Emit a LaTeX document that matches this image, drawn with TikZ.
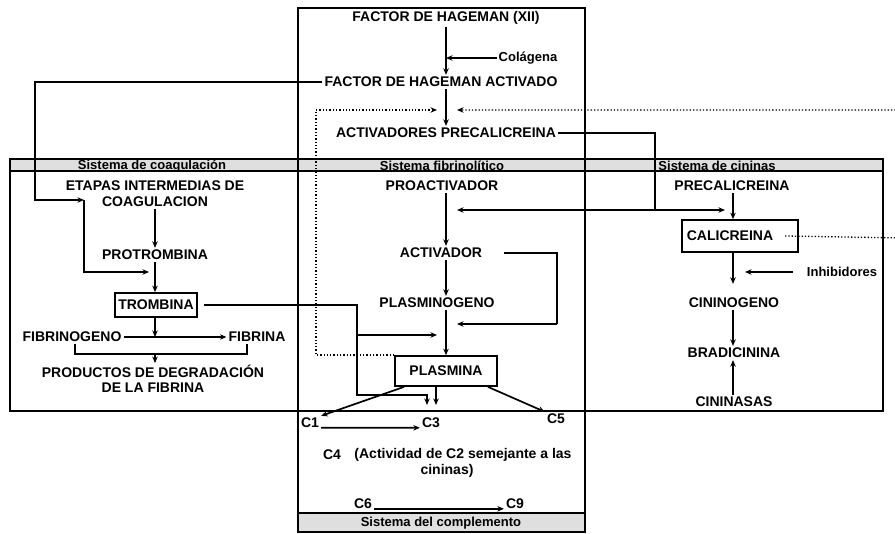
\documentclass[tikz,border=0pt]{standalone}
\usepackage{fontspec}
\setmainfont{Liberation Sans}
\usetikzlibrary{arrows.meta,calc}
\begin{document}
\begin{tikzpicture}[x=1pt,y=-1pt,
  every node/.style={font=\bfseries\fontsize{14pt}{16pt}\selectfont, inner sep=2pt},
  ln/.style={line width=1.8pt},
  arr/.style={line width=1.7pt,-{Stealth[length=6.5pt,width=5.5pt]}},
  darr/.style={line width=1.3pt, dotted, -{Stealth[length=6.5pt,width=5.5pt]}},
  boxn/.style={draw, line width=1.7pt, inner xsep=3pt},
  small/.style={font=\bfseries\fontsize{13pt}{15pt}\selectfont},
  hdr/.style={font=\bfseries\fontsize{13pt}{14pt}\selectfont, inner sep=0pt}]
\useasboundingbox (0,0) rectangle (895,534);
\clip (0,0) rectangle (895,534);
\fill[white] (0,0) rectangle (895,534);

% frames
\fill[gray!25] (10,159) rectangle (883,171);
\fill[gray!25] (298,513) rectangle (585,532);
\draw[ln] (10,159) rectangle (883,411);
\draw[ln] (10,171) -- (883,171);
\draw[ln] (298,8) rectangle (585,532);
\draw[ln] (298,513) -- (585,513);

\node[hdr] (hc) at (152,166) {Sistema de coagulación};
\node[hdr] (hf) at (442,166) {Sistema fibrinolítico};
\node[hdr] (hk) at (717,166) {Sistema de cininas};
\node[hdr] (hm) at (441,523) {Sistema del complemento};

% columns
\coordinate (cx) at (446,0);
\coordinate (lx) at (155,0);
\coordinate (rx) at (733,0);

% nodes
\node (fh) at (446,18) {FACTOR DE HAGEMAN (XII)};
\node[small] (col) at (528,58) {Colágena};
\node (fha) at (441,82) {FACTOR DE HAGEMAN ACTIVADO};
\node (ap) at (446,133) {ACTIVADORES PRECALICREINA};
\node[align=center] (et) at (155,194) {ETAPAS INTERMEDIAS DE\\COAGULACION};
\node (pt) at (155,255) {PROTROMBINA};
\node[boxn, minimum height=24pt] (tr) at (156,305) {TROMBINA};
\node (fg) at (72,337) {FIBRINOGENO};
\node (fb) at (257,337) {FIBRINA};
\node[align=center, font=\bfseries\fontsize{14pt}{15pt}\selectfont] (pd) at (153,379) {PRODUCTOS DE DEGRADACIÓN\\DE LA FIBRINA};
\node (pa) at (442,186) {PROACTIVADOR};
\node (ac) at (441,253) {ACTIVADOR};
\node (pg) at (437,303) {PLASMINOGENO};
\node[boxn, minimum width=102pt, minimum height=30pt] (pl) at (446,371) {PLASMINA};
\node (pc) at (732,186) {PRECALICREINA};
\node[boxn, minimum height=32pt, inner xsep=5pt] (ca) at (740,236) {CALICREINA\kern 20pt};
\node[small] (ih) at (842,272) {Inhibidores};
\node (cn) at (734,303) {CININOGENO};
\node (bd) at (734,353) {BRADICININA};
\node (cs) at (734,402) {CININASAS};
\node (c1) at (310,423) {C1};
\node (c3) at (431,423) {C3};
\node (c5) at (556,419) {C5};
\node (c4) at (332,455) {C4};
\node (act) at (463,455) {(Actividad de C2 semejante a las};
\node (cin) at (447,471) {cininas)};
\node (c6) at (363,504) {C6};
\node (c9) at (515,504) {C9};

% helper coordinates
\coordinate (j1) at (84,200);
\coordinate (t1) at (149,272);
\coordinate (bm) at (155,355);
\coordinate (k2) at (357,335);
\coordinate (k3) at (437,335);
\coordinate (c3t) at (436,405);
\coordinate (m1) at (655,210);
\coordinate (m2) at (457,210);
\coordinate (m3) at (725,210);
\coordinate (a2) at (557,324);
\coordinate (a3) at (457,324);
\coordinate (d1) at (437,110);
\coordinate (d2) at (457,110);

% top column
\draw[arr] (fh.south -| cx) -- (fha.north -| cx);
\draw[arr] (col.west) -- (col.west -| cx);
\draw[arr] (fha.south -| cx) -- (ap.north -| cx);

% Hageman activado to coagulation
\draw[arr] (fha.west) -| (35,200) -- (j1);
\draw[arr] (j1) |- (t1);

% coagulation column
\draw[arr] (et.south -| lx) -- (pt.north -| lx);
\draw[arr] (pt.south -| lx) -- (tr.north -| lx);
\draw[arr] (tr.south -| lx) -- (lx |- fg);
\draw[arr] (fg.east) -- (fb.west);
\draw[ln] ([xshift=3pt]fg.south) -- ++(0,10) -| ([xshift=-10pt]fb.south);
\draw[arr] (bm) -- (pd.north -| lx);

% trombina to plasmin / complement
\draw[arr, shorten <=6pt] (tr.east) -| (357,395) -| (427,405);
\draw[arr] (k2) -- (k3);

% fibrinolytic column
\draw[ln] (ap.east) -| (m1);
\draw[arr] (m1) -- (m2);
\draw[arr] (m1) -- (m3);
\draw[arr] (pa.south -| cx) -- (ac.north -| cx);
\draw[arr] (ac.south -| cx) -- (pg.north -| cx);
\draw[ln, shorten <=20pt] (ac.east) -| (a2);
\draw[arr] (a2) -- (a3);
\draw[arr] (pg.south -| cx) -- (pl.north -| cx);

% plasmina outputs
\draw[arr] (pl.south -| c3t) -- (c3t);
\draw[arr] ([xshift=10pt]pl.south west) -- (c1.north east);
\draw[arr] ([xshift=-10pt]pl.south east) -- (c5.north west);
\draw[arr] (c1.base east) -- (c3.base west);
\draw[arr] (c6.base east) -- (c9.base west);

% dotted feedback
\draw[darr] (pl.north west) -| (316,110) -- (d1);
\draw[darr] ([xshift=-14pt]ca.east) -- (905,238) -- (905,110) -- (d2);

% cininas column
\draw[arr] (pc.south -| rx) -- (ca.north -| rx);
\draw[arr, shorten >=12pt] (ca.south -| rx) -- (cn.north -| rx);
\draw[arr, shorten >=12pt, shorten <=12pt] (ih.west) -- (ih.west -| rx);
\draw[arr] (cn.south -| rx) -- (bd.north -| rx);
\draw[arr] (cs.north -| rx) -- (bd.south -| rx);
\end{tikzpicture}
\end{document}
